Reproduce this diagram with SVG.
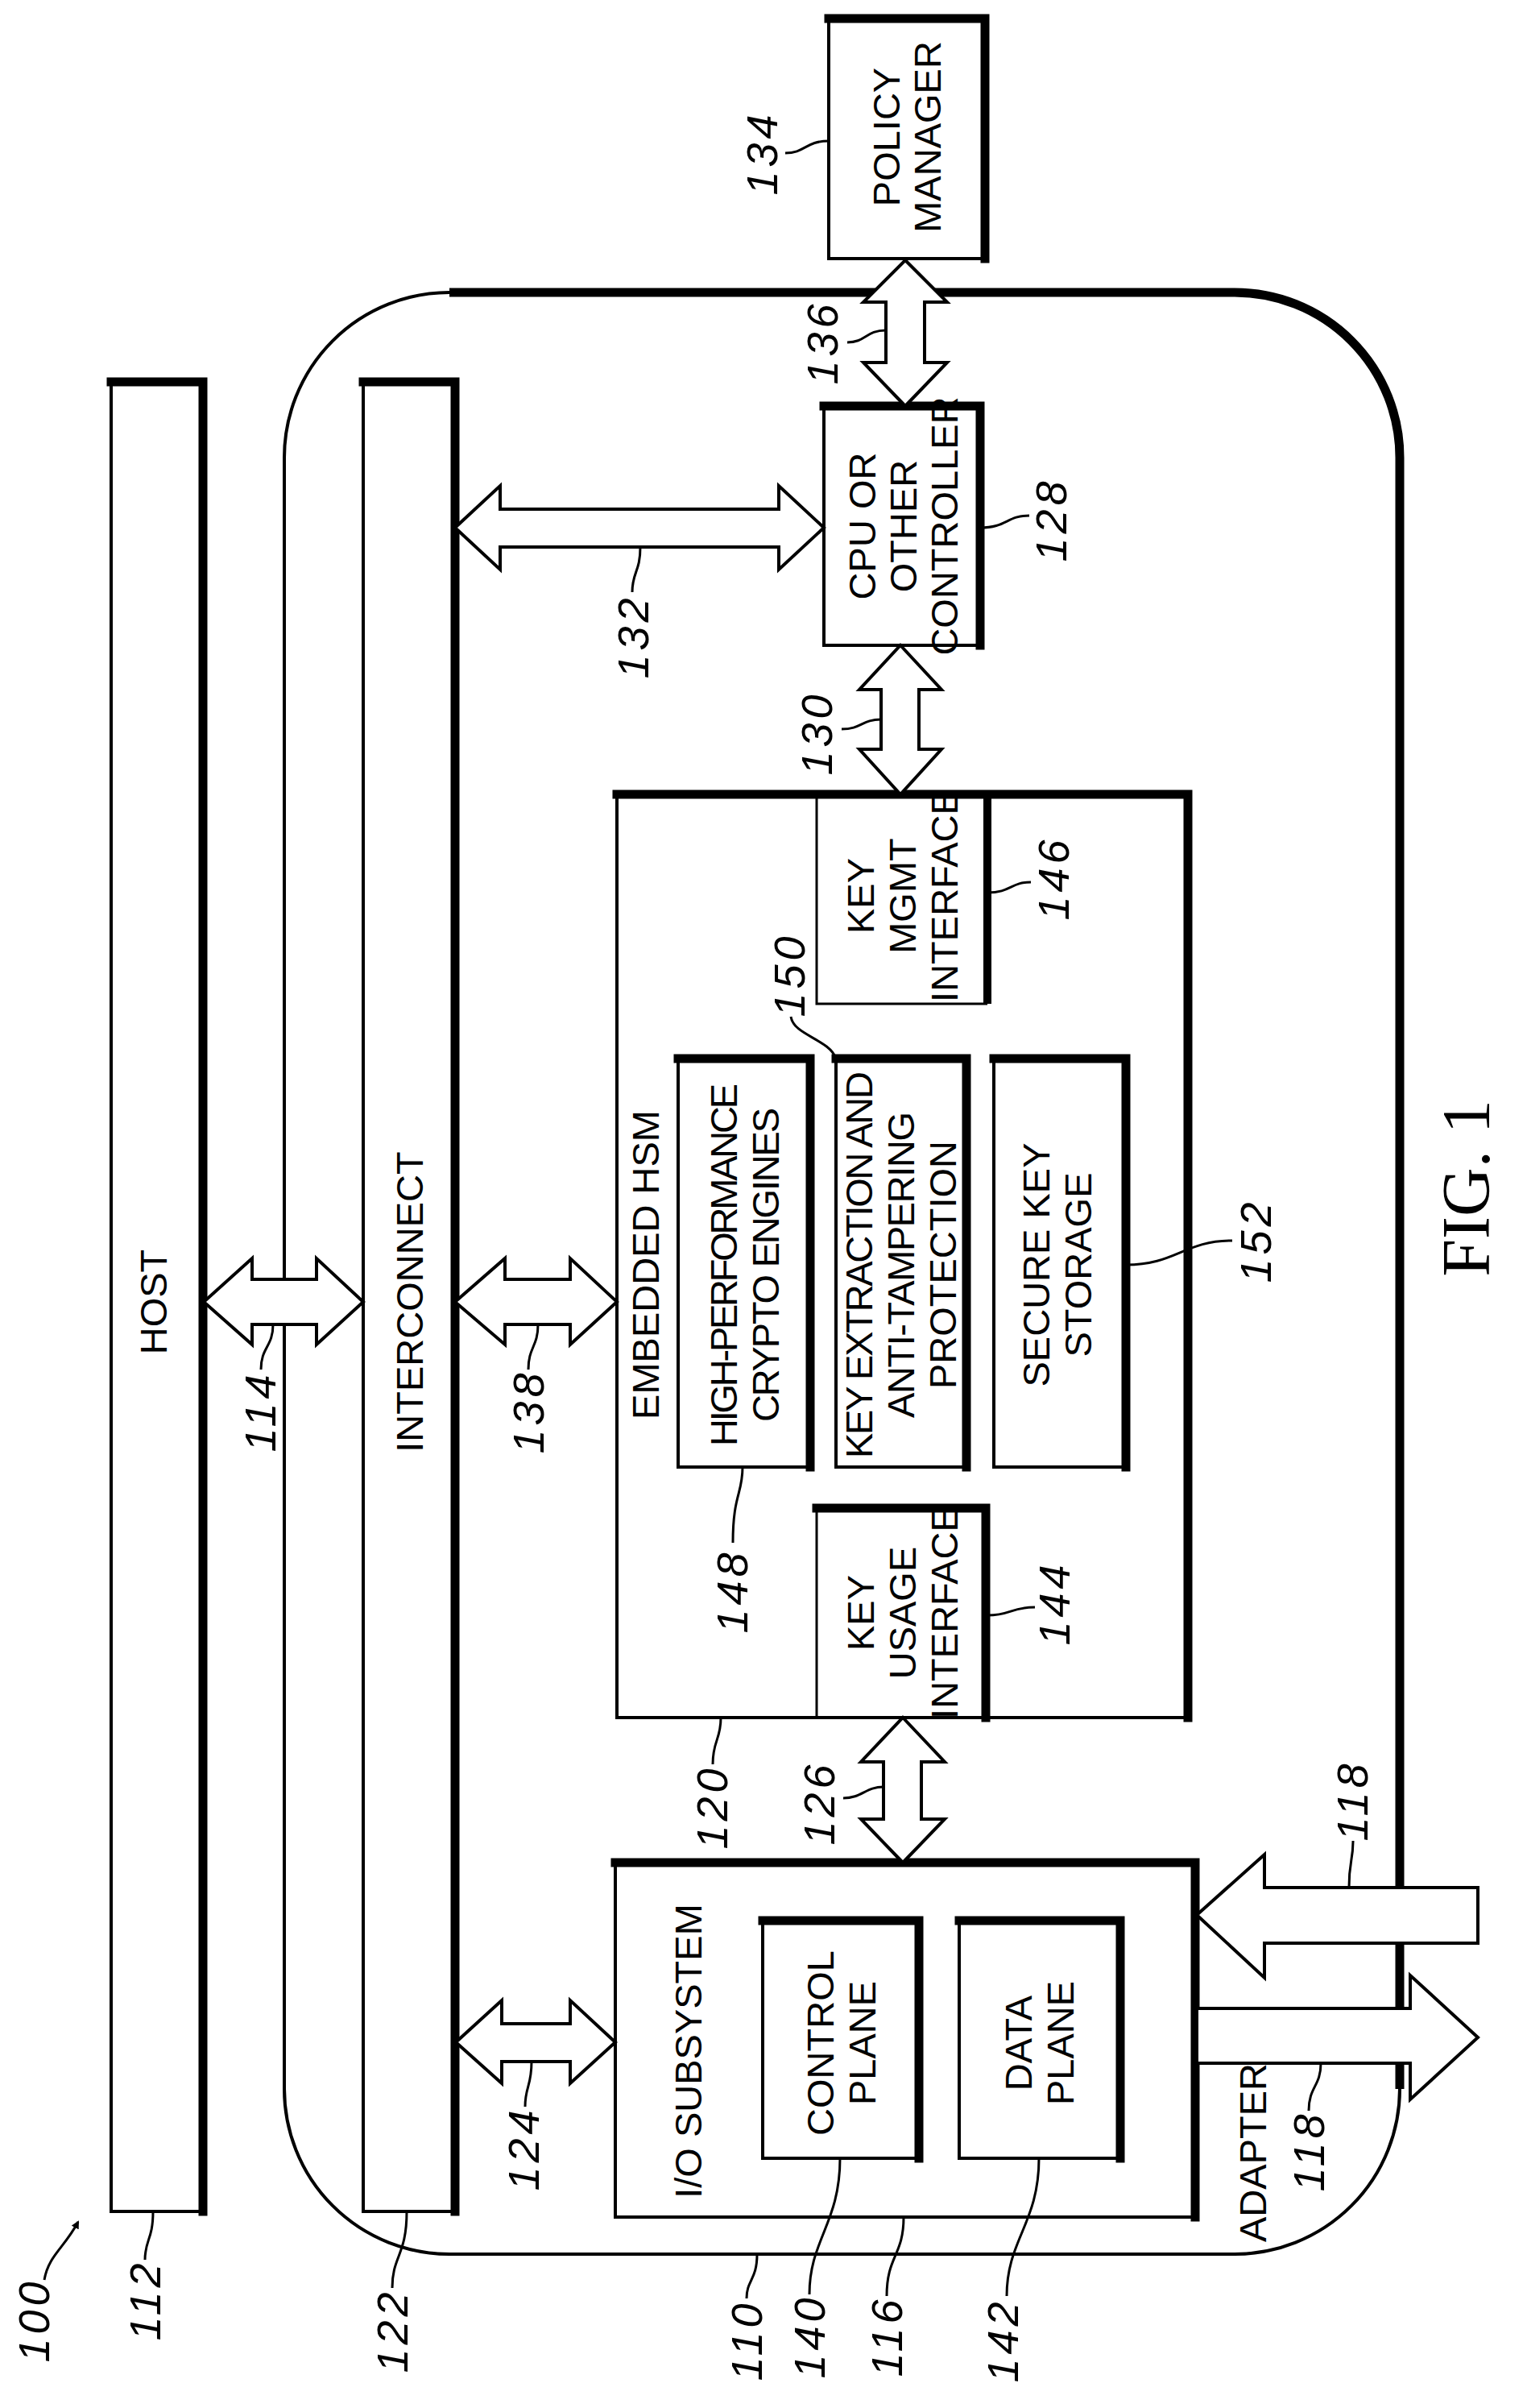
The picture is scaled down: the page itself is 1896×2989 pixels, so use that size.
<svg xmlns="http://www.w3.org/2000/svg" width="1896" height="2989" viewBox="0 0 1896 2989">
<style>
.b{fill:#fff;stroke:#000;stroke-width:4}
.t{fill:none;stroke:#000;stroke-width:11;stroke-linecap:square}
.a{fill:#fff;stroke:#000;stroke-width:4;stroke-linejoin:miter}
.l{fill:none;stroke:#000;stroke-width:3}
.x{font-family:"Liberation Sans",Arial,sans-serif;font-size:47px;text-anchor:middle;dominant-baseline:central}
.n{font-family:"Liberation Sans",Arial,sans-serif;font-style:italic;font-size:54px;letter-spacing:5px;text-anchor:middle;dominant-baseline:central}
</style>
<defs><marker id="ah" markerWidth="10" markerHeight="10" refX="8" refY="5" orient="auto" markerUnits="userSpaceOnUse" viewBox="0 0 10 10"><path d="M0,0 L10,5 L0,10 Z"/></marker></defs>
<rect width="1896" height="2989" fill="#fff"/>
<g id="adapter">
<rect x="353" y="363" width="1385" height="2435" rx="205" ry="205" fill="none" stroke="#000" stroke-width="4"/>
<path d="M558,363 H1533 A205,205 0 0 1 1738,568 V2593" fill="none" stroke="#000" stroke-width="11"/>
<text class="x" transform="translate(1555,2672) rotate(-90)">ADAPTER</text>
</g>
<g id="host"><rect class="b" x="138" y="474" width="114" height="2271"/><polyline class="t" points="138,474 252,474 252,2745"/><text class="x" transform="translate(190,1616) rotate(-90)">HOST</text></g>
<g id="interconnect"><rect class="b" x="451" y="474" width="114" height="2271"/><polyline class="t" points="451,474 565,474 565,2745"/><text class="x" transform="translate(508,1616) rotate(-90)">INTERCONNECT</text></g>
<g id="policy"><rect class="b" x="1029" y="23" width="194" height="298"/><polyline class="t" points="1029,23 1223,23 1223,321"/><text class="x" transform="translate(1125,170) rotate(-90)"><tspan x="0" dy="-25">POLICY</tspan><tspan x="0" dy="51">MANAGER</tspan></text></g>
<g id="cpu"><rect class="b" x="1023" y="504" width="194" height="297"/><polyline class="t" points="1023,504 1217,504 1217,801"/><text class="x" transform="translate(1121,653) rotate(-90)"><tspan x="0" dy="-51">CPU OR</tspan><tspan x="0" dy="51">OTHER</tspan><tspan x="0" dy="51">CONTROLLER</tspan></text></g>
<g id="hsm"><rect class="b" x="766" y="986" width="709" height="1146"/><polyline class="t" points="766,986 1475,986 1475,2132"/><text class="x" transform="translate(801,1570) rotate(-90)">EMBEDDED HSM</text></g>
<g id="keymgmt"><path d="M1014,986 V1246 H1226" class="l" stroke-width="4"/><line x1="1226" y1="986" x2="1226" y2="1246" stroke="#000" stroke-width="10"/><text class="x" transform="translate(1120,1112) rotate(-90)"><tspan x="0" dy="-52">KEY</tspan><tspan x="0" dy="52">MGMT</tspan><tspan x="0" dy="52">INTERFACE</tspan></text></g>
<g id="keyusage"><path d="M1014,2132 V1872" class="l" stroke-width="4"/><polyline class="t" points="1014,1872 1224,1872 1224,2132"/><text class="x" transform="translate(1120,2002) rotate(-90)"><tspan x="0" dy="-52">KEY</tspan><tspan x="0" dy="52">USAGE</tspan><tspan x="0" dy="52">INTERFACE</tspan></text></g>
<g id="crypto"><rect class="b" x="842" y="1314" width="164" height="507"/><polyline class="t" points="842,1314 1006,1314 1006,1821"/><text class="x" transform="translate(924,1570) rotate(-90)"><tspan x="0" dy="-26" textLength="450">HIGH-PERFORMANCE</tspan><tspan x="0" dy="52" textLength="390">CRYPTO ENGINES</tspan></text></g>
<g id="keyextraction"><rect class="b" x="1038" y="1314" width="162" height="507"/><polyline class="t" points="1038,1314 1200,1314 1200,1821"/><text class="x" transform="translate(1118,1570) rotate(-90)"><tspan x="0" dy="-52" textLength="480">KEY EXTRACTION AND</tspan><tspan x="0" dy="52" textLength="380">ANTI-TAMPERING</tspan><tspan x="0" dy="52">PROTECTION</tspan></text></g>
<g id="securekey"><rect class="b" x="1234" y="1314" width="164" height="507"/><polyline class="t" points="1234,1314 1398,1314 1398,1821"/><text class="x" transform="translate(1312,1570) rotate(-90)"><tspan x="0" dy="-26">SECURE KEY</tspan><tspan x="0" dy="52">STORAGE</tspan></text></g>
<g id="io"><rect class="b" x="764" y="2312" width="720" height="440"/><polyline class="t" points="764,2312 1484,2312 1484,2752"/><text class="x" transform="translate(854,2546) rotate(-90)">I/O SUBSYSTEM</text></g>
<g id="control"><rect class="b" x="947" y="2384" width="194" height="295"/><polyline class="t" points="947,2384 1141,2384 1141,2679"/><text class="x" transform="translate(1044,2536) rotate(-90)"><tspan x="0" dy="-26">CONTROL</tspan><tspan x="0" dy="52">PLANE</tspan></text></g>
<g id="data"><rect class="b" x="1191" y="2384" width="200" height="295"/><polyline class="t" points="1191,2384 1391,2384 1391,2679"/><text class="x" transform="translate(1290,2536) rotate(-90)"><tspan x="0" dy="-26">DATA</tspan><tspan x="0" dy="52">PLANE</tspan></text></g>
<g id="connectors">
<polygon class="a" points="253,1616 313,1562 313,1588 393,1588 393,1562 451,1616 393,1669 393,1644 313,1644 313,1669"/>
<polygon class="a" points="565,1616 627,1562 627,1588 708,1588 708,1562 766,1616 708,1669 708,1644 627,1644 627,1669"/>
<polygon class="a" points="565,655 621,603 621,632 967,632 967,603 1023,655 967,707 967,679 621,679 621,707"/>
<polygon class="a" points="566,2535 623,2483 623,2512 708,2512 708,2483 764,2535 708,2586 708,2559 623,2559 623,2586"/>
<polygon class="a" points="1124,323 1176,375 1148,375 1148,450 1176,450 1124,504 1072,450 1100,450 1100,375 1072,375"/>
<polygon class="a" points="1118,801 1169,856 1141,856 1141,930 1169,930 1118,986 1067,930 1094,930 1094,856 1067,856"/>
<polygon class="a" points="1121,2132 1173,2187 1144,2187 1144,2258 1173,2258 1121,2312 1069,2258 1097,2258 1097,2187 1069,2187"/>
<polygon class="a" points="1486,2377 1570,2302 1570,2343 1835,2343 1835,2412 1570,2412 1570,2455"/>
<polygon class="a" points="1486,2493 1751,2493 1751,2452 1835,2529 1751,2606 1751,2561 1486,2561"/>
<path class="l" d="M1029,175 C1000,175 1000,190 975,190"/>
<path class="l" d="M1100,410 C1075,410 1075,425 1052,425"/>
<path class="l" d="M1217,655 C1250,655 1250,640 1278,640"/>
<path class="l" d="M795,679 C795,710 785,710 785,735"/>
<path class="l" d="M1094,893 C1070,893 1070,905 1045,905"/>
<path class="l" d="M1226,1108 C1255,1108 1255,1095 1280,1095"/>
<path class="l" d="M1038,1314 C1030,1290 985,1285 982,1262"/>
<path class="l" d="M922,1821 C922,1855 910,1855 910,1915"/>
<path class="l" d="M1226,2005 C1255,2005 1255,1995 1285,1995"/>
<path class="l" d="M1398,1570 C1460,1570 1470,1540 1530,1540"/>
<path class="l" d="M339,1644 C339,1672 324,1672 324,1700"/>
<path class="l" d="M668,1644 C668,1672 656,1672 656,1700"/>
<path class="l" d="M895,2132 C895,2160 885,2160 885,2190"/>
<path class="l" d="M1097,2218 C1075,2218 1070,2232 1047,2232"/>
<path class="l" d="M660,2559 C660,2590 652,2590 652,2615"/>
<path class="l" d="M1675,2343 C1675,2310 1680,2310 1680,2285"/>
<path class="l" d="M1640,2561 C1640,2590 1625,2590 1625,2620"/>
<path class="l" d="M190,2745 C190,2780 180,2780 180,2805"/>
<path class="l" d="M505,2745 C505,2800 487,2800 487,2840"/>
<path class="l" d="M940,2798 C940,2830 927,2830 927,2853"/>
<path class="l" d="M1043,2679 C1043,2760 1005,2780 1005,2848"/>
<path class="l" d="M1122,2752 C1122,2800 1101,2800 1101,2850"/>
<path class="l" d="M1290,2679 C1290,2760 1250,2780 1250,2850"/>
<path class="l" d="M55,2830 C60,2800 80,2790 97,2758" marker-end="url(#ah)"/>
</g>
<g id="labels">
<text class="n" transform="translate(946,190) rotate(-90)">134</text>
<text class="n" transform="translate(1021,425) rotate(-90)">136</text>
<text class="n" transform="translate(1305,645) rotate(-90)">128</text>
<text class="n" transform="translate(786,790) rotate(-90)">132</text>
<text class="n" transform="translate(1014,910) rotate(-90)">130</text>
<text class="n" transform="translate(1308,1090) rotate(-90)">146</text>
<text class="n" transform="translate(980,1210) rotate(-90)">150</text>
<text class="n" transform="translate(909,1975) rotate(-90)">148</text>
<text class="n" transform="translate(1309,1990) rotate(-90)">144</text>
<text class="n" transform="translate(1559,1540) rotate(-90)">152</text>
<text class="n" transform="translate(323,1752) rotate(-90)">114</text>
<text class="n" transform="translate(656,1752) rotate(-90)">138</text>
<text class="n" transform="translate(884,2243) rotate(-90)">120</text>
<text class="n" transform="translate(1017,2238) rotate(-90)">126</text>
<text class="n" transform="translate(650,2667) rotate(-90)">124</text>
<text class="n" transform="translate(1679,2235) rotate(-90)">118</text>
<text class="n" transform="translate(1625,2670) rotate(-90)">118</text>
<text class="n" transform="translate(180,2855) rotate(-90)">112</text>
<text class="n" transform="translate(487,2893) rotate(-90)">122</text>
<text class="n" transform="translate(927,2905) rotate(-90)">110</text>
<text class="n" transform="translate(1005,2900) rotate(-90)">140</text>
<text class="n" transform="translate(1101,2900) rotate(-90)">116</text>
<text class="n" transform="translate(1245,2905) rotate(-90)">142</text>
<text class="n" transform="translate(42,2880) rotate(-90)">100</text>
<text transform="translate(1820,1475) rotate(-90)" font-family="Liberation Serif,serif" font-size="84" text-anchor="middle" dominant-baseline="central">FIG. 1</text>
</g>
</svg>
